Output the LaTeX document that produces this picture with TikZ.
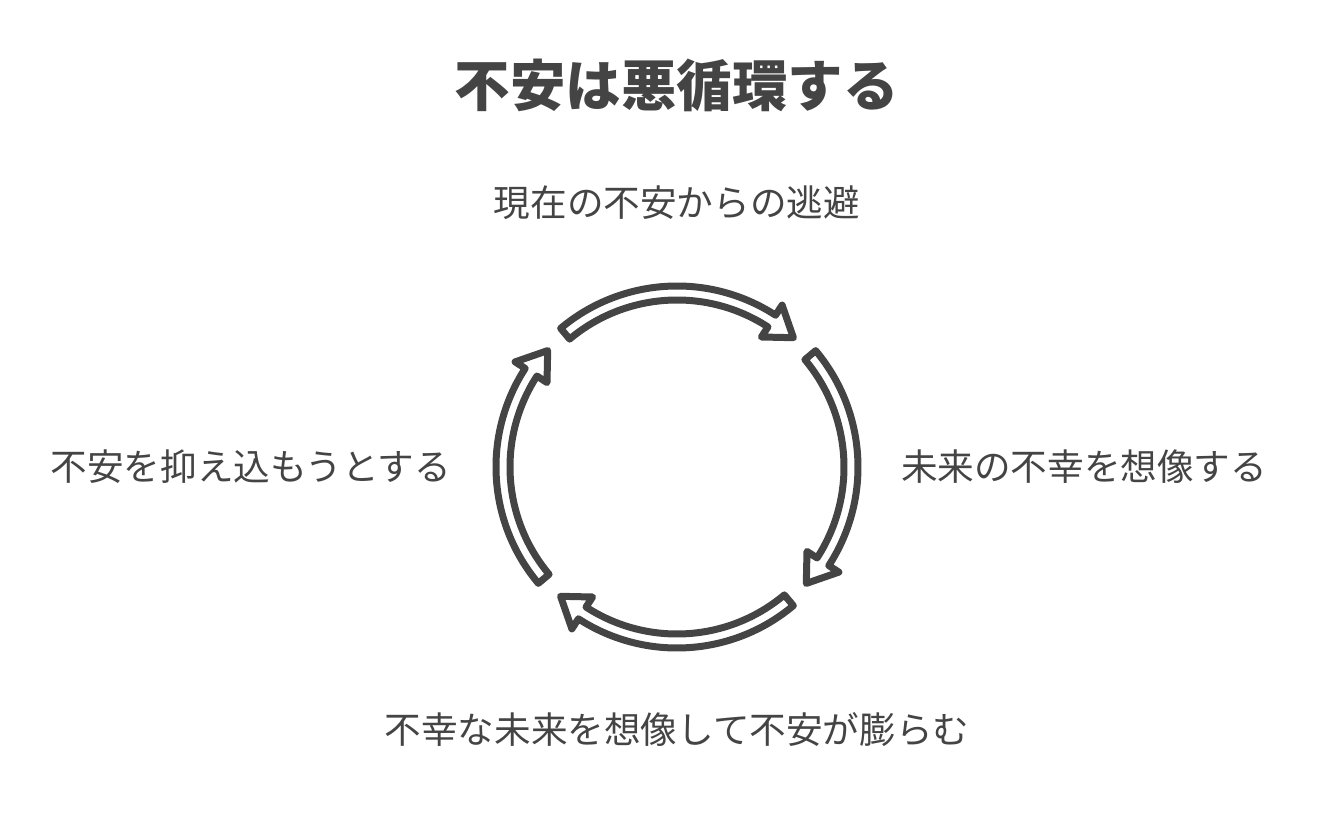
\documentclass[tikz,border=0pt]{standalone}
\usepackage{fontspec}
\newfontfamily\cjk{Noto Sans CJK JP}
\definecolor{ink}{HTML}{444444}
\begin{document}
\begin{tikzpicture}[x=1pt,y=1pt,
  lbl/.style={font=\cjk\fontsize{36.6}{40}\selectfont, text=ink, inner sep=0pt},
  ttl/.style={font=\cjk\bfseries\fontsize{55.5}{60}\selectfont, text=ink, inner sep=0pt},
  cyc/.style={draw=ink, fill=white, line width=7pt, line join=round}]
\useasboundingbox (-677,-355) rectangle (643,467);
\newcommand{\arcarrow}[2]{%
  \pgfmathsetmacro{\hb}{#2+9}%
  \draw[cyc] (#1:181) arc[start angle=#1, end angle=\hb, radius=181]
    -- (\hb:193) -- (#2:174) -- (\hb:155) -- (\hb:167)
    arc[start angle=\hb, end angle=#1, radius=167] -- cycle;}
\node[ttl] (title) at (0,382) {不安は悪循環する};
\node[lbl] (top) at (0,264) {現在の不安からの逃避};
\node[lbl] (right) at (407,0) {未来の不幸を想像する};
\node[lbl] (bottom) at (0,-263) {不幸な未来を想像して不安が膨らむ};
\node[lbl] (left) at (-426,0) {不安を抑え込もうとする};
\arcarrow{130}{48}
\arcarrow{40}{-42}
\arcarrow{-50}{-132}
\arcarrow{-140}{-222}
\end{tikzpicture}
\end{document}
